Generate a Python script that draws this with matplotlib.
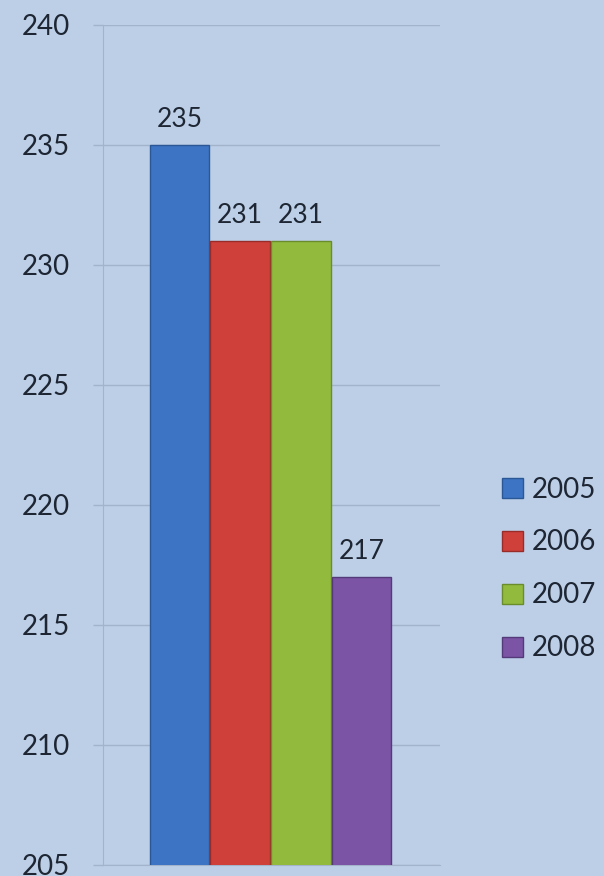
import numpy as np
import matplotlib
matplotlib.use("Agg")
import matplotlib.pyplot as plt
from matplotlib.patches import Patch

years = ["2005", "2006", "2007", "2008"]
values = [235, 231, 231, 217]
colors = ["#3d74c3", "#cf403b", "#92bb3d", "#7b54a5"]
edges = ["#2b5796", "#992c28", "#6a8c2a", "#553a7a"]
yticks = [205, 210, 215, 220, 225, 230, 235, 240]

bg = "#bccfe7"
plt.rcParams['font.family'] = ['Lato', 'DejaVu Sans']

fig = plt.figure(figsize=(6.04, 8.76), dpi=100, facecolor=bg)
ax = fig.add_axes([0.1705, 0.0126, 0.558, 0.959], facecolor=bg)

x = np.arange(len(years))
bars = ax.bar(x, values, width=0.98, color=colors, edgecolor=edges, linewidth=1.0, zorder=3)

# labels above bars
for b, v in zip(bars, values):
    ax.annotate(str(v), (b.get_x() + b.get_width() / 2, v), xytext=(0, 18.5),
                textcoords="offset points", ha="center", va="center",
                fontsize=19, color="#1e2633")

ax.set_ylim(205, 240)
ax.set_xlim(-1.26, 4.29)
ax.set_yticks(yticks)
ax.set_xticks([])
ax.grid(axis="y", color="#a3b4ca", linewidth=1.0, zorder=0)
ax.tick_params(axis="y", length=7, width=1, color="#a3b4ca", pad=16.5,
               labelsize=20, labelcolor="#1e2633")
for side in ["top", "right"]:
    ax.spines[side].set_visible(False)
for side in ["left", "bottom"]:
    ax.spines[side].set_color("#a3b4ca")

handles = [Patch(facecolor=c, edgecolor=e, label=y) for c, e, y in zip(colors, edges, years)]
fig.legend(handles=handles, loc="center left", bbox_to_anchor=(0.831, 0.3505),
           frameon=False, fontsize=20, handlelength=0.75, handleheight=0.75,
           handletextpad=0.32, labelspacing=0.97, borderpad=0, borderaxespad=0,
           labelcolor="#1e2633")

fig.savefig("out.png", dpi=100, facecolor=bg)
